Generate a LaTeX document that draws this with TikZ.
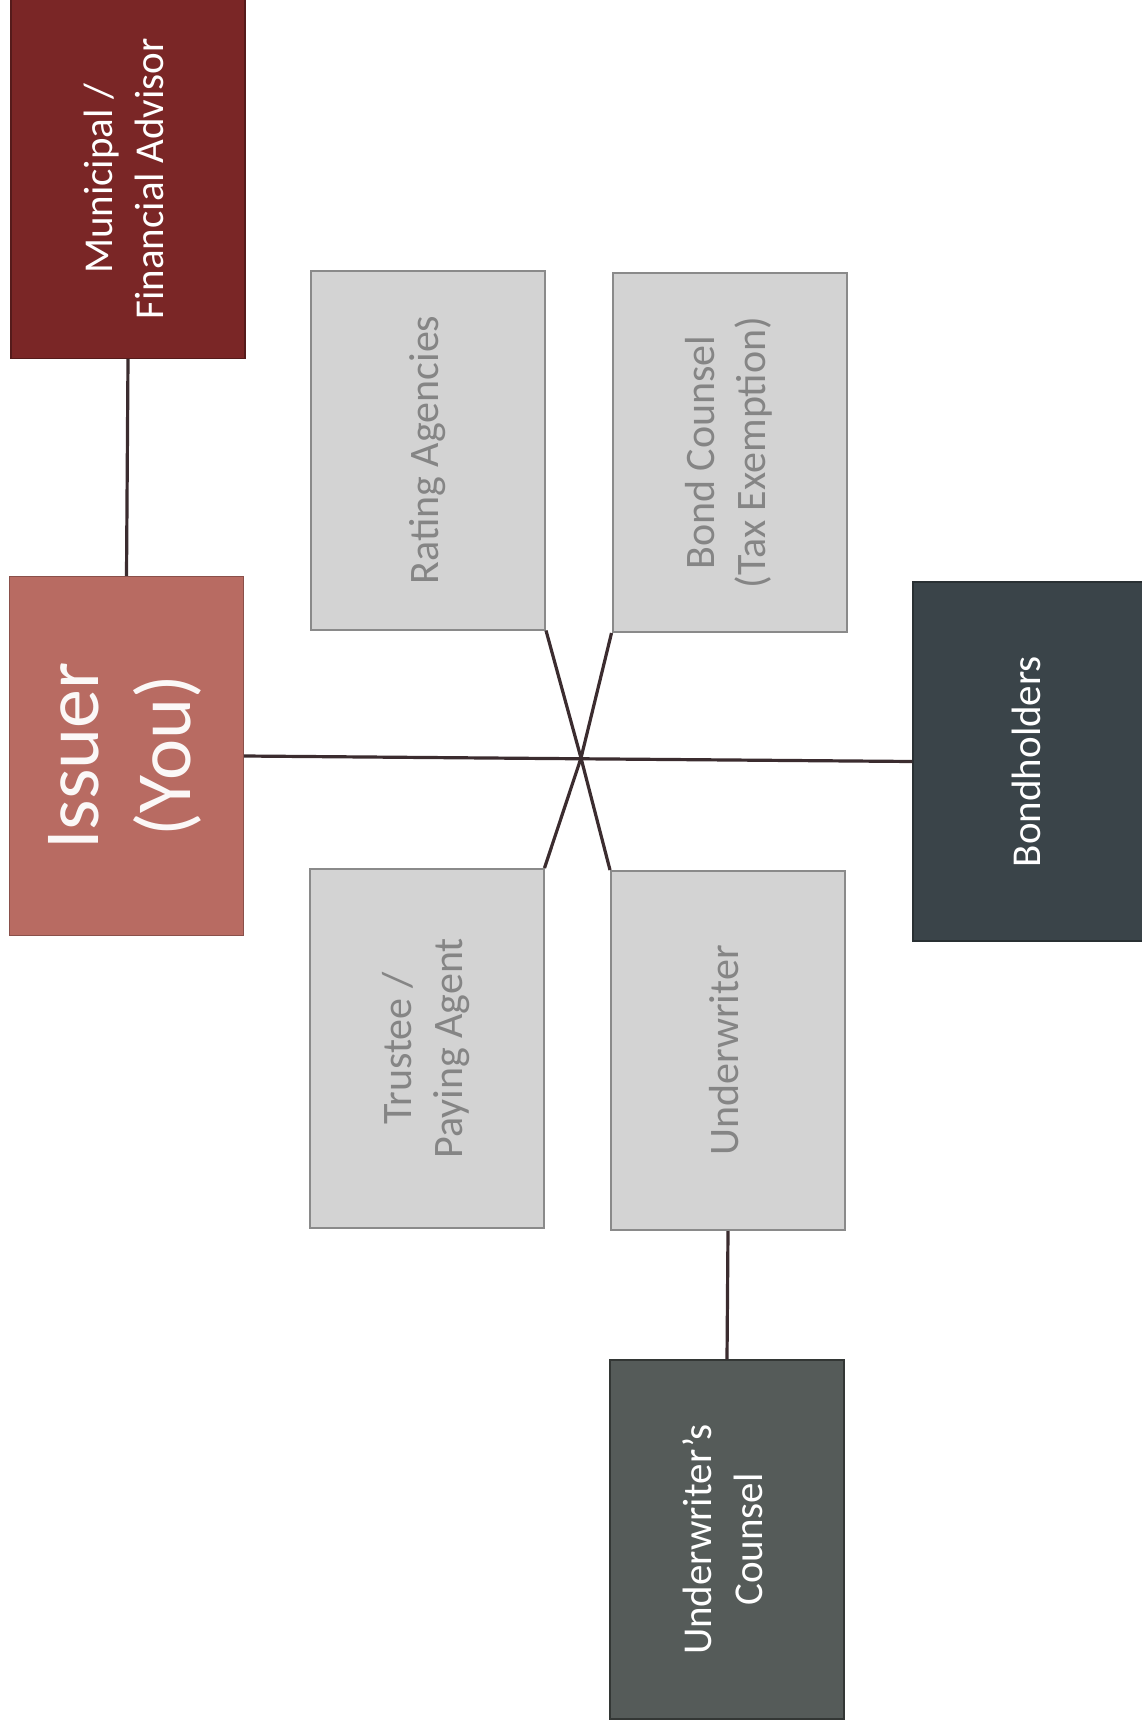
\documentclass[tikz,border=0pt]{standalone}
\usepackage{fontspec}
\setmainfont{Carlito}
\usepackage{graphicx}
\definecolor{muni}{HTML}{7A2626}
\definecolor{issuer}{HTML}{B86B62}
\definecolor{boxgray}{HTML}{D3D3D3}
\definecolor{bordergray}{HTML}{8A8A8A}
\definecolor{textgray}{HTML}{858585}
\definecolor{bondh}{HTML}{3A4449}
\definecolor{ucounsel}{HTML}{555B59}
\definecolor{linecol}{HTML}{3B2C2F}
\newcommand{\rtext}[1]{\rotatebox{90}{\begin{tabular}{@{}c@{}}#1\end{tabular}}}
\tikzset{
  box/.style={rectangle, minimum width=234pt, minimum height=359pt, inner sep=0pt, align=center, line width=1.2pt},
  graybox/.style={box, fill=boxgray, draw=bordergray, text=textgray, line width=2pt, font=\fontsize{42}{51}\selectfont},
  darkbox/.style={box, text=white, font=\fontsize{41}{51}\selectfont},
  link/.style={draw=linecol, line width=3.2pt}
}
\begin{document}
\begin{tikzpicture}[x=1pt,y=-1pt]
\useasboundingbox (0,0) rectangle (1142,1728);
\clip (0,0) rectangle (1142,1728);
\fill[white] (0,0) rectangle (1142,1728);
% nodes
\node[darkbox, fill=muni, draw=muni!70!black] (muni) at (128,179) {\rtext{Municipal /\\Financial Advisor}};
\node[box, fill=issuer, draw=issuer!75!black, text=white!95!issuer, font=\fontsize{78}{92}\selectfont] (issuer) at (126.5,756) {\rtext{Issuer\\(You)}};
\node[graybox] (rating) at (428,450) {\rtext{Rating Agencies}};
\node[graybox] (bond) at (729.5,452.5) {\rtext{Bond Counsel\\(Tax Exemption)}};
\node[darkbox, fill=bondh, draw=bondh!70!black] (bondh) at (1030,761.5) {\rtext{Bondholders}};
\node[graybox] (trustee) at (426.5,1048.5) {\rtext{Trustee /\\Paying Agent}};
\node[graybox] (under) at (728,1050.5) {\rtext{Underwriter}};
\node[darkbox, fill=ucounsel, draw=ucounsel!60!black] (ucoun) at (727,1539.5) {\rtext{Underwriter’s\\Counsel}};
\coordinate (hub) at (581,758);
% connectors
\draw[link] (muni.south) -- (issuer.north);
\draw[link] (issuer.east) -- (bondh.west);
\draw[link] (rating.south east) -- (hub);
\draw[link] (bond.south west) -- (hub);
\draw[link] (trustee.north east) -- (hub);
\draw[link] (under.north west) -- (hub);
\draw[link] (under.south) -- (ucoun.north);
\end{tikzpicture}
\end{document}
